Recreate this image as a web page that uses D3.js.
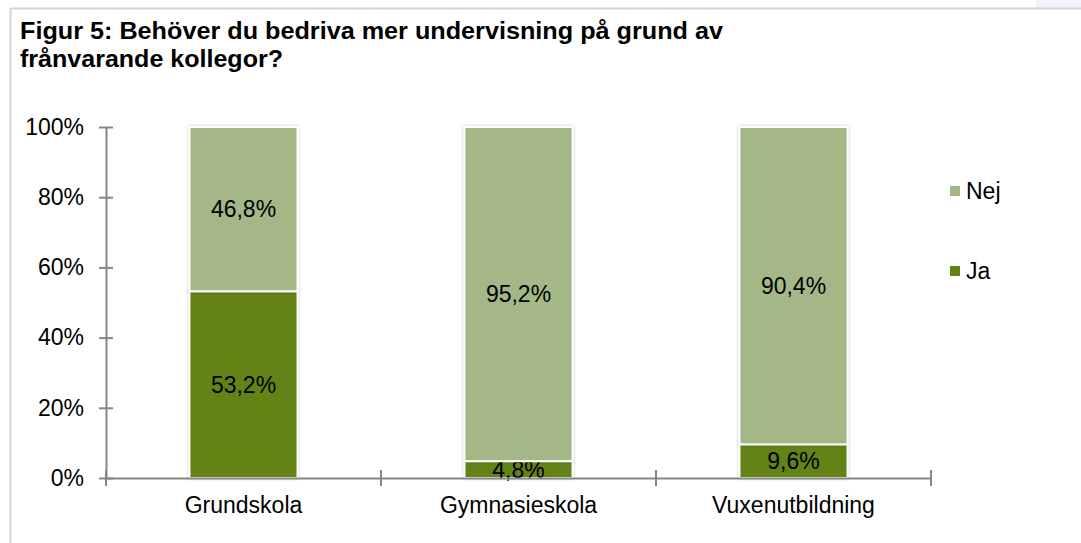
<!DOCTYPE html>
<html>
<head>
<meta charset="utf-8">
<script src="https://cdn.jsdelivr.net/npm/d3@7"></script>
<style>
  body { margin: 0; background: #fff; }
  svg { display: block; font-family: "Liberation Sans", Arial, sans-serif; }
</style>
</head>
<body>
<svg id="chart" width="1081" height="543"></svg>
<script>
// DATA
let categories = ["Grundskola", "Gymnasieskola", "Vuxenutbildning"];
let jaValues = [53.2, 4.8, 9.6];
let nejValues = [46.8, 95.2, 90.4];
let seriesNames = ["Ja", "Nej"];
let yTicks = [0, 20, 40, 60, 80, 100];

let colors = { Ja: "#638313", Nej: "#a3b886" };
let fontSize = 23;

let svg = d3.select("#chart");
let margin = { top: 127, left: 106 };
let width = 825, height = 351;

// frame
svg.append("rect").attr("x", 1036).attr("y", 0).attr("width", 45).attr("height", 8).attr("fill", "#f1f3f9");
svg.append("line").attr("x1", 10).attr("x2", 1081).attr("y1", 8.5).attr("y2", 8.5).attr("stroke", "#d4d4d4").attr("stroke-width", 2);
svg.append("line").attr("x1", 10.5).attr("x2", 10.5).attr("y1", 8).attr("y2", 543).attr("stroke", "#d4d4d4").attr("stroke-width", 2);

// title
let title = svg.append("text").attr("font-weight", "bold").attr("font-size", fontSize).attr("fill", "#000");
title.append("tspan").attr("x", 20).attr("y", 39).attr("textLength", 703).attr("lengthAdjust", "spacingAndGlyphs")
  .text("Figur 5: Behöver du bedriva mer undervisning på grund av");
title.append("tspan").attr("x", 20).attr("y", 67).attr("textLength", 263).attr("lengthAdjust", "spacingAndGlyphs")
  .text("frånvarande kollegor?");

let g = svg.append("g").attr("transform", "translate(" + margin.left + "," + margin.top + ")");

let x = d3.scaleBand().domain(categories).range([0, width]).paddingInner(0.607).paddingOuter(0.3035);
let y = d3.scaleLinear().domain([0, 100]).range([height, 0]);

let stackData = categories.map(function (c, i) { return { cat: c, Ja: jaValues[i], Nej: nejValues[i] }; });
let stack = d3.stack().keys(seriesNames)(stackData);

// shadow
let defs = svg.append("defs");
let f = defs.append("filter").attr("id", "sh").attr("x", "-20%").attr("y", "-20%").attr("width", "140%").attr("height", "140%");
f.append("feDropShadow").attr("dx", 0).attr("dy", 0).attr("stdDeviation", 1.5).attr("flood-color", "#000").attr("flood-opacity", 0.25);

// BARS
let layers = g.selectAll(".layer").data(stack).enter().append("g").attr("class", "layer")
  .attr("fill", function (d) { return colors[d.key]; });

layers.selectAll("rect").data(function (d) { return d; }).enter().append("rect")
  .attr("x", function (d) { return x(d.data.cat); })
  .attr("y", function (d) { return y(d[1]); })
  .attr("width", x.bandwidth())
  .attr("height", function (d) { return y(d[0]) - y(d[1]); })
  .attr("stroke", "#fff")
  .attr("stroke-width", 2)
  .attr("filter", "url(#sh)");

// labels
layers.selectAll("text").data(function (d) { return d; }).enter().append("text")
  .attr("x", function (d) { return x(d.data.cat) + x.bandwidth() / 2; })
  .attr("y", function (d) { return (y(d[0]) + y(d[1])) / 2; })
  .attr("dy", "0.36em")
  .attr("text-anchor", "middle")
  .attr("font-size", fontSize)
  .attr("fill", "#000")
  .text(function (d) { return d3.format(".1f")(d[1] - d[0]).replace(".", ",") + "%"; });

// AXES
let yAxis = g.append("g").call(d3.axisLeft(y).tickValues(yTicks).tickSizeInner(7).tickSizeOuter(0).tickFormat(function (d) { return d + "%"; }));
yAxis.selectAll(".tick line").attr("x2", 7).attr("x1", -7);
yAxis.selectAll("text").attr("x", -22).attr("font-size", fontSize).attr("fill", "#000").attr("font-family", "Liberation Sans, Arial, sans-serif");

let xAxis = g.append("g").attr("transform", "translate(0," + height + ")")
  .call(d3.axisBottom(x).tickSize(0).tickPadding(19));
xAxis.selectAll("text").attr("font-size", fontSize).attr("fill", "#000").attr("font-family", "Liberation Sans, Arial, sans-serif");

// category boundary ticks
let bounds = [0, 1, 2, 3].map(function (i) { return i * width / 3; });
g.selectAll(".btick").data(bounds).enter().append("line")
  .attr("x1", function (d) { return d; }).attr("x2", function (d) { return d; })
  .attr("y1", height - 8).attr("y2", height + 8)
  .attr("stroke", "#868686").attr("stroke-width", 2);

svg.selectAll(".domain, .tick line").attr("stroke", "#868686").attr("stroke-width", 2);

// LEGEND
let legendItems = ["Nej", "Ja"];
let legend = svg.append("g").attr("transform", "translate(950,0)");
legend.selectAll("rect").data(legendItems).enter().append("rect")
  .attr("x", 0).attr("y", function (d, i) { return 186 + i * 80; })
  .attr("width", 10).attr("height", 10)
  .attr("fill", function (d) { return colors[d]; });
legend.selectAll("text").data(legendItems).enter().append("text")
  .attr("x", 16).attr("y", function (d, i) { return 191 + i * 80; })
  .attr("dy", "0.36em").attr("font-size", fontSize).attr("fill", "#000")
  .text(function (d) { return d; });
</script>
</body>
</html>
